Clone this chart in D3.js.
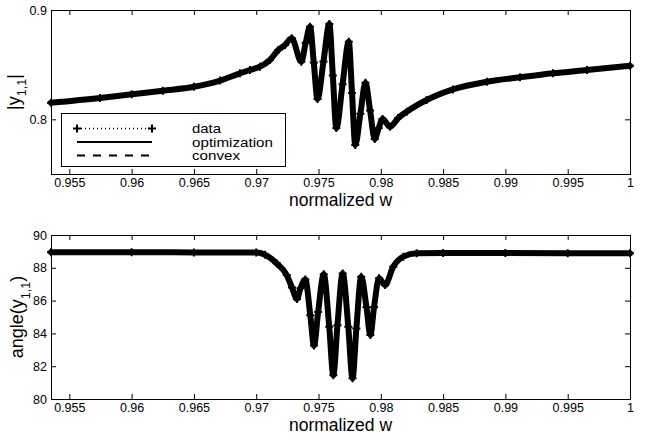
<!DOCTYPE html>
<html>
<head>
<meta charset="utf-8">
<script src="https://cdn.jsdelivr.net/npm/d3@7"></script>
<style>
  body { margin: 0; background: #fff; }
  svg { display: block; font-family: "Liberation Sans", Arial, Helvetica, sans-serif; }
</style>
</head>
<body>
<div id="chart"></div>
<script>
// -------------------- Data --------------------

// |y1,1| vs normalized frequency
const magFreq = [0.95353, 0.95746, 0.9600, 0.9625, 0.9650, 0.96710, 0.96870, 0.96950, 0.97030, 0.97110,
    0.97177, 0.97231, 0.97285, 0.97362, 0.97397, 0.97432, 0.97462, 0.97492, 0.97540, 0.97587,
    0.97615, 0.97643, 0.97693, 0.97743, 0.97769, 0.97795, 0.97836, 0.97877, 0.97914, 0.97951,
    0.97983, 0.98014, 0.98074, 0.98138, 0.98208, 0.98368, 0.98579, 0.98852, 0.99117, 0.99382,
    0.99655, 1.0];
const magData = [0.8151, 0.8195, 0.8229, 0.8262, 0.8298, 0.8355, 0.8421, 0.8451, 0.8482, 0.8543,
    0.8634, 0.8680, 0.8741, 0.8527, 0.8700, 0.8847, 0.8520, 0.8186, 0.8530, 0.8872,
    0.8400, 0.7920, 0.8320, 0.8710, 0.8240, 0.7765, 0.8050, 0.8335, 0.8080, 0.7820,
    0.7920, 0.8003, 0.7932, 0.8010, 0.8070, 0.8177, 0.8274, 0.8344, 0.8384, 0.8421,
    0.8451, 0.8490];

// angle(y1,1) vs normalized frequency
const angFreq = [0.95353, 0.9600, 0.9650, 0.9700, 0.97071, 0.97164, 0.97245, 0.97287, 0.97327, 0.97355,
    0.97394, 0.97434, 0.97464, 0.97497, 0.97542, 0.97586, 0.97619, 0.97652, 0.97694, 0.97739,
    0.97773, 0.97804, 0.97843, 0.97885, 0.97916, 0.97946, 0.97986, 0.98034, 0.98100, 0.98181,
    0.98288, 0.9850, 0.9900, 0.9950, 1.0];
const angData = [88.95, 88.95, 88.94, 88.93, 88.80, 88.27, 87.56, 86.80, 86.10, 86.75,
    87.28, 85.10, 83.26, 85.30, 87.60, 84.40, 81.45, 84.50, 87.66, 84.40,
    81.26, 84.30, 87.46, 85.60, 83.90, 85.60, 87.36, 86.95, 88.07, 88.68,
    88.88, 88.90, 88.90, 88.89, 88.88];

const xTicks = [0.955, 0.96, 0.965, 0.97, 0.975, 0.98, 0.985, 0.99, 0.995, 1];
const xTickLabels = ["0.955", "0.96", "0.965", "0.97", "0.975", "0.98", "0.985", "0.99", "0.995", "1"];
const magTicks = [0.8, 0.9];
const angTicks = [80, 82, 84, 86, 88, 90];
const legendNames = ["data", "optimization", "convex"];


// -------------------- Setup --------------------
const WIDTH = 649;
const HEIGHT = 435;

const svg = d3.select("#chart")
    .append("svg")
    .attr("width", WIDTH)
    .attr("height", HEIGHT);

const x = d3.scaleLinear().domain([0.95353, 1]).range([51, 630]);

const panels = [
    { top: 10, bottom: 174, domain: [0.75, 0.9], ticks: magTicks, freq: magFreq, values: magData,
      label: ["|y", "1,1", "|"], labelX: 20, subDy: 6 },
    { top: 235, bottom: 399, domain: [80, 90], ticks: angTicks, freq: angFreq, values: angData,
      label: ["angle(y", "1,1", ")"], labelX: 23, subDy: 7 }
];

const plusPath = "M-4,0H4M0,-4V4";

// ***** PANELS *****
const drawPanel = (p, withLegend) => {
    const y = d3.scaleLinear().domain(p.domain).range([p.bottom, p.top]);
    const g = svg.append("g");

    // axes with inward ticks on all four sides
    g.append("g")
        .attr("transform", `translate(0,${p.bottom})`)
        .call(d3.axisBottom(x).tickValues(xTicks).tickFormat((d, i) => xTickLabels[i])
            .tickSizeInner(-5).tickSizeOuter(0).tickPadding(4));
    g.append("g")
        .attr("transform", `translate(0,${p.top})`)
        .call(d3.axisTop(x).tickValues(xTicks).tickFormat("").tickSizeInner(-5).tickSizeOuter(0));
    g.append("g")
        .attr("transform", "translate(51,0)")
        .call(d3.axisLeft(y).tickValues(p.ticks).tickFormat(d3.format("~g"))
            .tickSizeInner(-5).tickSizeOuter(0).tickPadding(4));
    g.append("g")
        .attr("transform", "translate(630,0)")
        .call(d3.axisRight(y).tickValues(p.ticks).tickFormat("").tickSizeInner(-5).tickSizeOuter(0));

    g.selectAll(".domain").remove();
    g.selectAll(".tick line").attr("stroke", "#000");
    g.selectAll(".tick text").attr("fill", "#000").attr("font-size", 12.5)
        .attr("font-family", "'Liberation Sans', Arial, sans-serif");

    g.append("rect")
        .attr("x", 51.5).attr("y", p.top + 0.5)
        .attr("width", 579).attr("height", p.bottom - p.top)
        .attr("fill", "none").attr("stroke", "#000").attr("stroke-width", 1);

    // series
    const pts = p.freq.map((f, i) => [f, p.values[i]]);
    const line = d3.line()
        .x(d => x(d[0]))
        .y(d => y(d[1]))
        .curve(d3.curveMonotoneX);

    // dense '+' markers of the data merge into a thick trail
    g.append("path").datum(pts)
        .attr("d", line)
        .attr("fill", "none").attr("stroke", "#000")
        .attr("stroke-width", 6).attr("stroke-linejoin", "round").attr("stroke-linecap", "round");
    g.append("g").selectAll("path")
        .data(pts)
        .join("path")
        .attr("transform", d => `translate(${x(d[0])},${y(d[1])})`)
        .attr("d", plusPath)
        .attr("stroke", "#000").attr("stroke-width", 2);
    // optimization fit (solid) and convex fit (dashed)
    g.append("path").datum(pts)
        .attr("d", line)
        .attr("fill", "none").attr("stroke", "#000").attr("stroke-width", 2);
    g.append("path").datum(pts)
        .attr("d", line)
        .attr("fill", "none").attr("stroke", "#000").attr("stroke-width", 2)
        .attr("stroke-dasharray", "8,7");

    // labels
    g.append("text")
        .attr("x", 340.5).attr("y", p.bottom + 32)
        .attr("text-anchor", "middle")
        .attr("font-size", 17.5)
        .text("normalized w");

    const yl = g.append("text")
        .attr("transform", `translate(${p.labelX},${(p.top + p.bottom) / 2}) rotate(-90)`)
        .attr("text-anchor", "middle")
        .attr("font-size", 18);
    yl.append("tspan").text(p.label[0]);
    yl.append("tspan").attr("font-size", 12.5).attr("dy", p.subDy).text(p.label[1]);
    yl.append("tspan").attr("dy", -p.subDy).text(p.label[2]);

    if (withLegend) drawLegend(g);
};

// ***** LEGEND *****
const drawLegend = (g) => {
    const lg = g.append("g");
    lg.append("rect")
        .attr("x", 61.5).attr("y", 113.5).attr("width", 224).attr("height", 53)
        .attr("fill", "#fff").attr("stroke", "#000").attr("stroke-width", 1);

    const rowY = [128.5, 142, 155.5];
    const rows = lg.selectAll("g.row")
        .data(legendNames)
        .join("g")
        .attr("class", "row")
        .attr("transform", (d, i) => `translate(0,${rowY[i]})`);

    rows.append("line")
        .attr("x1", 77).attr("x2", 152)
        .attr("stroke", "#000")
        .attr("stroke-width", (d, i) => i === 0 ? 1.5 : 2)
        .attr("stroke-dasharray", (d, i) => i === 0 ? "1,3" : i === 2 ? "8,8" : null);

    rows.filter((d, i) => i === 0).selectAll("path")
        .data([77, 152])
        .join("path")
        .attr("transform", d => `translate(${d},0)`)
        .attr("d", plusPath)
        .attr("stroke", "#000").attr("stroke-width", 2);

    rows.append("text")
        .attr("x", 192).attr("dy", "0.35em")
        .attr("font-size", 13.5)
        .attr("textLength", (d, i) => [29, 81, 48][i])
        .attr("lengthAdjust", "spacingAndGlyphs")
        .text(d => d);
};

drawPanel(panels[0], true);
drawPanel(panels[1], false);
</script>
</body>
</html>
